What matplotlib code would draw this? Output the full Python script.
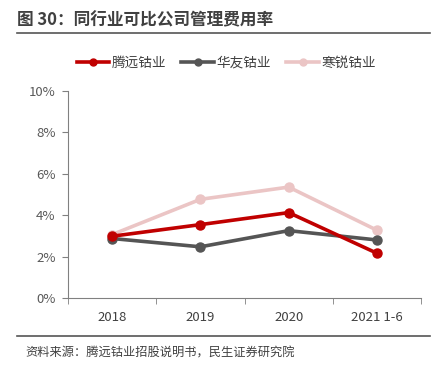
import matplotlib.pyplot as plt
from matplotlib.lines import Line2D
from matplotlib.ticker import FuncFormatter

plt.rcParams['font.family'] = ['Noto Sans CJK SC', 'DejaVu Sans']

years = ['2018', '2019', '2020', '2021 1-6']
tengyuan = [2.98, 3.54, 4.12, 2.16]
huayou = [2.87, 2.47, 3.25, 2.80]
hanrui = [3.06, 4.76, 5.35, 3.27]
names = ['腾远钴业', '华友钴业', '寒锐钴业']
colors = ['#C00000', '#555555', '#EBC5C5']

fig = plt.figure(figsize=(4.37, 3.77), dpi=100)
ax = fig.add_axes([0.1556, 0.2095, 0.808, 0.55])

x = list(range(len(years)))
# draw pink first so the others sit on top
for vals, c, z in [(hanrui, colors[2], 2), (huayou, colors[1], 3), (tengyuan, colors[0], 4)]:
    ax.plot(x, vals, color=c, linewidth=2.6, marker='o', markersize=6.5, zorder=z)

ax.set_xlim(-0.5, len(years) - 0.5)
ax.set_ylim(0, 10)
ax.set_yticks(range(0, 11, 2))
ax.yaxis.set_major_formatter(FuncFormatter(lambda v, p: f'{v:.0f}%'))
ax.set_xticks(x)
ax.set_xticklabels(years)
ax.set_xticks([i - 0.5 for i in range(len(years) + 1)], minor=True)
ax.tick_params(axis='x', which='major', length=0, pad=9, labelsize=9.5, colors='#404040')
ax.tick_params(axis='x', which='minor', length=4, color='#808080', direction='out')
ax.tick_params(axis='y', length=4, color='#808080', direction='out', labelsize=9.5,
               labelcolor='#595959', pad=5)
for s in ['top', 'right']:
    ax.spines[s].set_visible(False)
ax.spines['left'].set_color('#808080')
ax.spines['bottom'].set_color('#808080')

handles = [Line2D([0], [0], color=c, linewidth=2.6, marker='o', markersize=5) for c in colors]
fig.legend(handles, names, loc='center', bbox_to_anchor=(0.518, 0.833), ncol=3, frameon=False,
           fontsize=9.8, handlelength=2.4, handletextpad=0.2, columnspacing=1.1,
           labelcolor='#404040')

fig.text(0.04, 0.945, '图 30：同行业可比公司管理费用率', fontsize=12, fontweight='bold',
         color='#404040', va='center')
fig.add_artist(Line2D([0.039, 0.985], [0.912, 0.912], color='#555555', linewidth=1.2))
fig.add_artist(Line2D([0.039, 0.985], [0.109, 0.109], color='#555555', linewidth=1.2))
fig.text(0.058, 0.063, '资料来源：腾远钴业招股说明书，民生证券研究院', fontsize=8.8,
         color='#404040', va='center')

fig.savefig('out.png', dpi=100)
